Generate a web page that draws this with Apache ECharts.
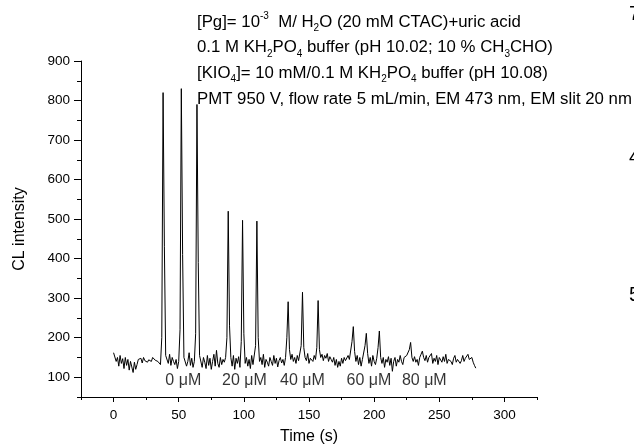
<!DOCTYPE html>
<html>
<head>
<meta charset="utf-8">
<script src="https://cdn.jsdelivr.net/npm/echarts@6/dist/echarts.min.js"></script>
<style>
  html, body { margin: 0; padding: 0; background: #fff; }
  #chart { width: 634px; height: 447px; }
</style>
</head>
<body>
<div id="chart"></div>
<script>
// trace: one reading per second, starting at t = 0 s
const tStart = 0
const tStep = 1
const clIntensity = [
  162,158,140,150,128,155,135,147,122,150,130,145,118,140,126,112,138,120,132,145,
  140,148,136,150,142,146,138,144,147,140,150,145,143,148,140,135,132,
  200,820,430,155,
  160,135,158,130,150,140,132,145,122,140,
  220,830,410,150,
  150,128,140,162,130,148,125,140,
  210,790,390,155,
  160,125,150,138,122,155,130,148,120,140,158,128,168,135,125,150,132,145,138,150,
  200,520,230,150,
  128,155,120,148,135,152,125,
  190,497,210,135,
  150,128,145,122,155,132,128,
  180,495,200,140,
  150,132,158,125,145,138,128,150,140,130,155,135,148,126,142,150,136,145,130,150,
  200,291,170,
  145,158,140,150,135,155,142,138,
  180,315,175,
  150,142,160,135,148,152,140,155,145,
  175,294,170,
  150,158,142,155,148,160,140,152,145,138,150,130,145,125,140,128,148,135,150,142,138,155,145,150,
  190,228,165,
  140,155,132,150,128,145,150,
  180,211,160,
  135,150,128,155,140,132,148,
  175,217,150,
  135,150,125,145,138,152,130,148,115,140,150,128,145,138,155,140,132,150,145,155,160,
  170,188,150,
  140,152,138,145,130,150,158,166,150,142,155,138,150,145,160,135,148,140,155,132,
  150,145,138,152,140,158,135,145,150,140,132,148,155,138,145,150,135,142,155,140,
  148,150,158,145,140,150,138,130,123
]

// uric acid concentration of each injection group, centred on the group
const concLabels = ['0 μM', '20 μM', '40 μM', '60 μM', '80 μM']
const concTimes = [53.5, 100.5, 145, 196, 238.5]

const xTicks = [0, 50, 100, 150, 200, 250, 300]
const xMinorTicks = [-25, 25, 75, 125, 175, 225, 275, 325]
const yTicks = [100, 200, 300, 400, 500, 600, 700, 800, 900]
const yMinorTicks = [50, 150, 250, 350, 450, 550, 650, 750, 850]

const noteLines = [
  '[Pg]= 10{sup|-3}  M/ H{sub|2}O (20 mM CTAC)+uric acid',
  '0.1 M KH{sub|2}PO{sub|4} buffer (pH 10.02; 10 % CH{sub|3}CHO)',
  '[KIO{sub|4}]= 10 mM/0.1 M KH{sub|2}PO{sub|4} buffer (pH 10.08)',
  'PMT 950 V, flow rate 5 mL/min, EM 473 nm, EM slit 20 nm'
]

const FONT = '"Liberation Sans", Arial, Helvetica, sans-serif'

const noteRich = {
  sub: { fontSize: 10, fontFamily: FONT, lineHeight: 10, verticalAlign: 'bottom', fill: '#000' },
  sup: { fontSize: 10, fontFamily: FONT, lineHeight: 10, verticalAlign: 'top', fill: '#000' }
}

const getOption = () => {
  const axisLine = { show: true, onZero: false, lineStyle: { color: '#000', width: 1 } }
  const tickStyle = { color: '#000', width: 1 }
  const labelStyle = { color: '#000', fontSize: 13.5, fontFamily: FONT }
  const nameStyle = { color: '#000', fontSize: 16, fontFamily: FONT }

  const option = {
    animation: false,
    backgroundColor: '#fff',
    grid: { left: 81, right: 97, top: 61, bottom: 50, containLabel: false, outerBoundsMode: 'none' },
    xAxis: [
      {
        type: 'value', min: -25, max: 325, position: 'bottom',
        axisLine: axisLine,
        axisTick: { show: true, customValues: xTicks, length: 5, lineStyle: tickStyle },
        axisLabel: Object.assign({ customValues: xTicks, margin: 11 }, labelStyle),
        splitLine: { show: false },
        name: 'Time (s)', nameLocation: 'middle', nameGap: 32, nameTextStyle: nameStyle
      },
      {
        type: 'value', min: -25, max: 325, position: 'bottom',
        axisLine: { show: false, onZero: false },
        axisTick: { show: true, customValues: xMinorTicks, length: 3, lineStyle: tickStyle },
        axisLabel: { show: false },
        splitLine: { show: false }
      }
    ],
    yAxis: [
      {
        type: 'value', min: 50, max: 900, position: 'left',
        axisLine: axisLine,
        axisTick: { show: true, customValues: yTicks, length: 7, lineStyle: tickStyle },
        axisLabel: Object.assign({ customValues: yTicks, margin: 11 }, labelStyle),
        splitLine: { show: false },
        name: 'CL intensity', nameLocation: 'middle', nameGap: 53, nameRotate: 90, nameTextStyle: nameStyle
      },
      {
        type: 'value', min: 50, max: 900, position: 'left',
        axisLine: { show: false, onZero: false },
        axisTick: { show: true, customValues: yMinorTicks, length: 4, lineStyle: tickStyle },
        axisLabel: { show: false },
        splitLine: { show: false }
      }
    ],
    series: [
      {
        type: 'line',
        xAxisIndex: 0, yAxisIndex: 0,
        data: clIntensity.map((v, i) => [tStart + i * tStep, v]),
        showSymbol: false,
        lineStyle: { color: '#000', width: 1 },
        silent: true
      },
      {
        type: 'scatter',
        xAxisIndex: 0, yAxisIndex: 0,
        symbolSize: 0,
        data: concTimes.map((t, i) => ({ name: concLabels[i], value: [t, 92] })),
        label: {
          show: true, position: 'inside', formatter: '{b}',
          color: '#000', fontSize: 16, fontFamily: FONT
        },
        silent: true
      }
    ],
    graphic: noteLines.map((line, i) => ({
      type: 'text',
      left: 197,
      top: 11 + i * 25.8,
      style: {
        text: line,
        fill: '#000',
        fontSize: 16.8,
        fontFamily: FONT,
        lineHeight: 22,
        rich: noteRich
      }
    })).concat([
      { type: 'text', left: 629, top: 4, style: { text: '7', fill: '#000', fontSize: 20, fontFamily: FONT } },
      { type: 'text', left: 629, top: 147, style: { text: '4', fill: '#000', fontSize: 20, fontFamily: FONT } },
      { type: 'text', left: 629, top: 285, style: { text: '5', fill: '#000', fontSize: 20, fontFamily: FONT } }
    ])
  }
  return option
}

var myChart = echarts.init(document.getElementById('chart'), null, { renderer: 'canvas' })
myChart.setOption(getOption())

window.addEventListener('resize', () => {
  myChart.resize()
})
</script>
</body>
</html>
